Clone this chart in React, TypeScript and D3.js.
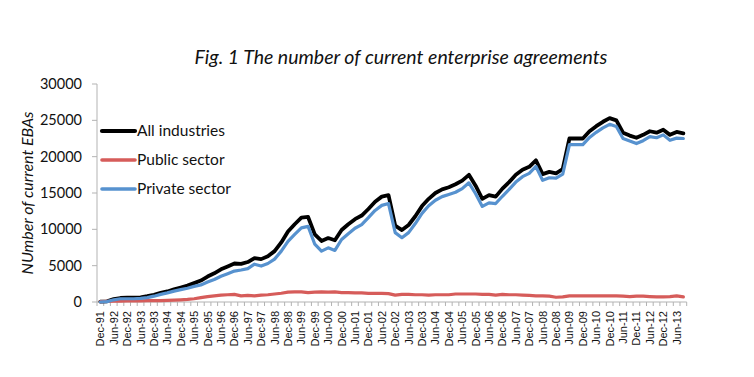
import React from "react";
import * as d3 from "d3";

const quarters: string[] = (() => {
  const out: string[] = [];
  const m = ["Mar", "Jun", "Sep", "Dec"];
  out.push("Dec-91");
  for (let y = 92; y <= 113; y++) {
    for (let q = 0; q < 4; q++) {
      const yy = String(y % 100).padStart(2, "0");
      out.push(`${m[q]}-${yy}`);
      if (y === 113 && q === 2) return out;
    }
  }
  return out;
})();

const allIndustries = [
  50, 100, 400, 550, 600, 600, 650, 800, 1000, 1250, 1450, 1750, 2000, 2250, 2600, 2950,
  3500, 3950, 4500, 4900, 5300, 5250, 5500, 6050, 5900, 6300, 7000, 8200, 9700, 10700, 11600, 11700,
  9300, 8400, 8800, 8500, 9900, 10700, 11400, 11900, 12800, 13800, 14500, 14700, 10500, 9900, 10600, 11800,
  13200, 14200, 15000, 15500, 15800, 16200, 16700, 17500, 16000, 14200, 14700, 14500, 15600, 16500, 17500, 18200,
  18600, 19500, 17600, 17900, 17700, 18300, 22500, 22500, 22500, 23500, 24200, 24800, 25300, 25000, 23300, 22900,
  22600, 23000, 23500, 23300, 23700, 23000, 23400, 23200,
];

const publicSector = [
  50, 80, 100, 120, 150, 150, 150, 180, 200, 200, 220, 250, 300, 350, 450, 600,
  750, 850, 950, 1000, 1050, 850, 900, 850, 950, 1000, 1100, 1200, 1350, 1400, 1400, 1300,
  1350, 1400, 1350, 1400, 1300, 1300, 1250, 1250, 1200, 1200, 1200, 1150, 950, 1050, 1050, 1000,
  1000, 950, 1000, 1000, 1000, 1100, 1100, 1100, 1100, 1050, 1050, 950, 1050, 1000, 1000, 950,
  900, 850, 850, 800, 650, 700, 850, 850, 850, 850, 850, 850, 850, 850, 800, 750,
  800, 800, 750, 700, 700, 750, 850, 700,
];

const privateSector = [
  0, 50, 300, 450, 450, 450, 500, 600, 800, 1050, 1250, 1500, 1700, 1900, 2150, 2350,
  2750, 3100, 3550, 3900, 4250, 4400, 4600, 5200, 4950, 5300, 5900, 7000, 8350, 9300, 10200, 10400,
  7950, 7000, 7450, 7100, 8600, 9400, 10150, 10650, 11600, 12600, 13300, 13550, 9550, 8850, 9550, 10800,
  12200, 13250, 14000, 14500, 14800, 15100, 15600, 16400, 14900, 13150, 13650, 13550, 14550, 15500, 16500, 17250,
  17700, 18650, 16750, 17100, 17050, 17600, 21650, 21650, 21650, 22650, 23350, 23950, 24450, 24150, 22500, 22150,
  21800, 22200, 22750, 22600, 23000, 22250, 22550, 22500,
];

const yTicks = [0, 5000, 10000, 15000, 20000, 25000, 30000];

const seriesNames = ["All industries", "Public sector", "Private sector"];
const seriesColors = ["#000000", "#D65C5A", "#5792CF"];

export default function App() {
  const W = 754;
  const H = 377;
  const left = 97;
  const right = 686.7;
  const top = 84;
  const bottom = 302;

  const x = d3.scaleBand<string>().domain(quarters).range([left, right]).paddingInner(0).paddingOuter(0);
  const y = d3.scaleLinear().domain([0, 30000]).range([bottom, top]);
  const cx = (i: number) => (x(quarters[i]) as number) + x.bandwidth() / 2;

  const line = d3
    .line<number>()
    .x((_, i) => cx(i))
    .y((d) => y(d))
    .curve(d3.curveLinear);

  const data = [allIndustries, publicSector, privateSector];
  const widths = [3.8, 3.2, 3.2];
  const drawOrder = [0, 1, 2];

  const axisColor = "#b3b3b3";
  const labelFont = "'Liberation Sans', Arial, sans-serif";
  const textFont = "Lato, 'Open Sans', sans-serif";

  return (
    <svg width={W} height={H} style={{ position: "absolute", left: 0, top: 0, background: "#fff" }}>
      <text x={401} y={64} textAnchor="middle" fontFamily={textFont} fontStyle="italic" fontSize={19.5} fill="#111">
        Fig. 1 The number of current enterprise agreements
      </text>

      {/* y axis */}
      <line x1={left} x2={left} y1={top} y2={bottom} stroke={axisColor} strokeWidth={1} />
      {yTicks.map((t) => (
        <g key={t}>
          <line x1={left - 5} x2={left} y1={y(t)} y2={y(t)} stroke={axisColor} strokeWidth={1} />
          <text x={82} y={y(t)} dy="0.35em" textAnchor="end" fontFamily={textFont} fontSize={14.5} fill="#111">
            {t}
          </text>
        </g>
      ))}
      <text
        transform={`translate(33,${193}) rotate(-90)`}
        textAnchor="middle"
        fontFamily={textFont}
        fontStyle="italic"
        fontSize={16}
        fill="#111"
      >
        NUmber of current EBAs
      </text>

      {/* x axis */}
      <line x1={left} x2={right} y1={bottom} y2={bottom} stroke={axisColor} strokeWidth={1.2} />
      {quarters.map((q) => (
        <line
          key={"t" + q}
          x1={(x(q) as number) + x.bandwidth()}
          x2={(x(q) as number) + x.bandwidth()}
          y1={bottom}
          y2={bottom + 4}
          stroke={axisColor}
          strokeWidth={1}
        />
      ))}
      <line x1={left} x2={left} y1={bottom} y2={bottom + 4} stroke={axisColor} strokeWidth={1} />
      {quarters.map((q, i) =>
        i % 2 === 0 ? (
          <text
            key={"l" + q}
            transform={`translate(${cx(i) + 4},${bottom + 9}) rotate(-90)`}
            textAnchor="end"
            fontFamily={labelFont}
            fontSize={11}
            fill="#111"
          >
            {q}
          </text>
        ) : null
      )}

      {/* lines */}
      {drawOrder.map((s) => (
        <path
          key={seriesNames[s]}
          d={line(data[s]) || ""}
          fill="none"
          stroke={seriesColors[s]}
          strokeWidth={widths[s]}
          strokeLinejoin="round"
          strokeLinecap="round"
        />
      ))}

      {/* legend */}
      {seriesNames.map((n, i) => {
        const ly = 131 + i * 29;
        return (
          <g key={"lg" + n}>
            <line x1={102} x2={135} y1={ly} y2={ly} stroke={seriesColors[i]} strokeWidth={widths[i] + 0.4} strokeLinecap="round" />
            <text x={137} y={ly} dy="0.35em" fontFamily={textFont} fontSize={15.5} fill="#111">
              {n}
            </text>
          </g>
        );
      })}
    </svg>
  );
}
